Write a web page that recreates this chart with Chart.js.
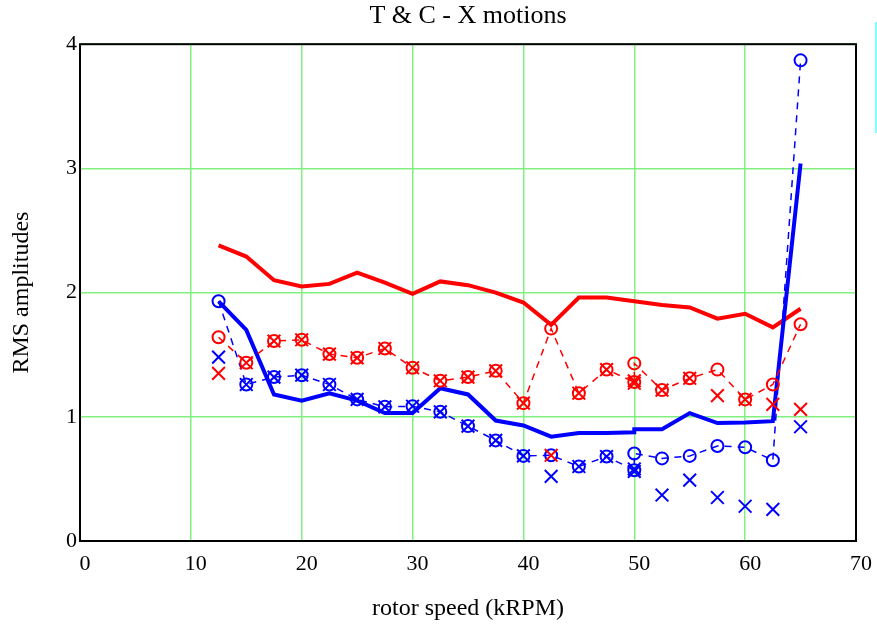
<!DOCTYPE html>
<html>
<head>
<meta charset="utf-8">
<script src="https://cdn.jsdelivr.net/npm/chart.js@4"></script>
<style>
  html, body { margin: 0; padding: 0; background: #fff; }
</style>
</head>
<body>
<canvas id="chart" width="877" height="630"></canvas>
<script>
// rotor speed (kRPM) - two runs at 50
const speed = [12.5, 15, 17.5, 20, 22.5, 25, 27.5, 30, 32.5, 35, 37.5, 40, 42.5, 45, 47.5, 50, 50, 52.5, 55, 57.5, 60, 62.5, 65];

const redSolid   = [2.38, 2.29, 2.10, 2.05, 2.07, 2.16, 2.08, 1.99, 2.09, 2.06, 2.00, 1.92, 1.74, 1.96, 1.96, 1.93, 1.93, 1.90, 1.88, 1.79, 1.83, 1.72, 1.87];
const blueSolid  = [1.93, 1.70, 1.18, 1.13, 1.19, 1.13, 1.03, 1.03, 1.23, 1.18, 0.97, 0.93, 0.84, 0.87, 0.87, 0.875, 0.90, 0.90, 1.03, 0.95, 0.955, 0.965, 3.04];
const redCircle  = [1.64, 1.435, 1.61, 1.62, 1.505, 1.475, 1.55, 1.395, 1.29, 1.32, 1.37, 1.11, 1.71, 1.19, 1.38, 1.28, 1.43, 1.215, 1.31, 1.38, 1.14, 1.26, 1.745];
const redCross   = [1.35, 1.435, 1.61, 1.62, 1.505, 1.475, 1.55, 1.395, 1.29, 1.32, 1.37, 1.11, 0.69, 1.19, 1.38, 1.27, 1.29, 1.215, 1.31, 1.17, 1.14, 1.10, 1.06];
const blueCircle = [1.93, 1.26, 1.32, 1.335, 1.26, 1.14, 1.08, 1.085, 1.04, 0.925, 0.81, 0.685, 0.69, 0.60, 0.68, 0.57, 0.705, 0.665, 0.685, 0.765, 0.755, 0.65, 3.87];
const blueCross  = [1.48, 1.26, 1.32, 1.335, 1.26, 1.14, 1.08, 1.085, 1.04, 0.925, 0.81, 0.685, 0.52, 0.60, 0.68, 0.56, 0.58, 0.37, 0.49, 0.35, 0.28, 0.255, 0.92];

const xTicks = [0, 10, 20, 30, 40, 50, 60, 70];
const yTicks = [0, 1, 2, 3, 4];

function pts(ys) {
  return speed.map((s, i) => ({ x: s, y: ys[i] }));
}

const serif = "'Liberation Serif', 'DejaVu Serif', serif";

// frame round the plot + the cyan strip at the right edge
const framePlugin = {
  id: 'frame',
  afterDraw(chart) {
    const { ctx, chartArea: a } = chart;
    ctx.save();
    ctx.strokeStyle = '#000';
    ctx.lineWidth = 2;
    ctx.strokeRect(a.left, a.top, a.right - a.left, a.bottom - a.top);
    ctx.fillStyle = '#80ffff';
    ctx.fillRect(875, 22, 2, 111);
    ctx.restore();
  }
};

const ctx = document.getElementById('chart').getContext('2d');
new Chart(ctx, {
  type: 'line',
  data: {
    datasets: [
      {
        data: pts(redCross),
        showLine: false,
        pointStyle: 'crossRot',
        pointRadius: 9,
        pointBorderColor: '#ff0000',
        pointBorderWidth: 2
      },
      {
        data: pts(blueCross),
        showLine: false,
        pointStyle: 'crossRot',
        pointRadius: 9,
        pointBorderColor: '#0000ff',
        pointBorderWidth: 2
      },
      {
        data: pts(redCircle),
        borderColor: '#ff0000',
        borderWidth: 1.5,
        borderDash: [7, 6],
        pointStyle: 'circle',
        pointRadius: 6,
        pointBorderColor: '#ff0000',
        pointBackgroundColor: 'rgba(0,0,0,0)',
        pointBorderWidth: 2
      },
      {
        data: pts(blueCircle),
        borderColor: '#0000ff',
        borderWidth: 1.5,
        borderDash: [7, 6],
        pointStyle: 'circle',
        pointRadius: 6,
        pointBorderColor: '#0000ff',
        pointBackgroundColor: 'rgba(0,0,0,0)',
        pointBorderWidth: 2
      },
      {
        data: pts(blueSolid),
        borderColor: '#0000ff',
        borderWidth: 4,
        pointRadius: 0
      },
      {
        data: pts(redSolid),
        borderColor: '#ff0000',
        borderWidth: 4,
        pointRadius: 0
      }
    ]
  },
  options: {
    responsive: false,
    animation: false,
    layout: { padding: { right: 20 } },
    scales: {
      x: {
        type: 'linear',
        min: 0,
        max: 70,
        afterBuildTicks: (axis) => { axis.ticks = xTicks.map(v => ({ value: v })); },
        afterFit: (axis) => { axis.height = 89; },
        grid: { color: '#80f080', lineWidth: 1.5, drawTicks: false },
        border: { display: false },
        ticks: { color: '#000', padding: 10, labelOffset: 5, font: { family: serif, size: 22 } },
        title: {
          display: true,
          text: 'rotor speed (kRPM)',
          color: '#000',
          font: { family: serif, size: 24 },
          padding: { top: 0, bottom: 7 }
        }
      },
      y: {
        min: 0,
        max: 4,
        afterBuildTicks: (axis) => { axis.ticks = yTicks.map(v => ({ value: v })); },
        afterFit: (axis) => { axis.width = 80; },
        grid: { color: '#80f080', lineWidth: 1.5, drawTicks: false },
        border: { display: false },
        ticks: { color: '#000', padding: 3, font: { family: serif, size: 22 } },
        title: {
          display: true,
          text: 'RMS amplitudes',
          color: '#000',
          font: { family: serif, size: 24 },
          padding: { top: 7, bottom: 0 }
        }
      }
    },
    plugins: {
      legend: { display: false },
      tooltip: { enabled: false },
      title: {
        display: true,
        fullSize: false,
        text: 'T & C - X motions',
        color: '#000',
        font: { family: serif, size: 26, weight: 'normal' },
        padding: { top: 1, bottom: 12 }
      }
    }
  },
  plugins: [framePlugin]
});
</script>
</body>
</html>
